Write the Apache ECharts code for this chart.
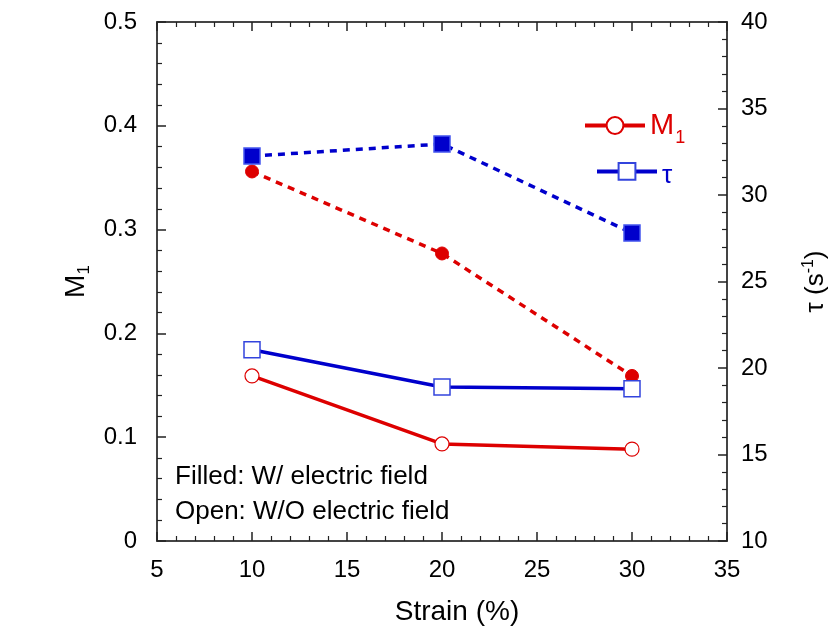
<!DOCTYPE html>
<html>
<head>
<meta charset="utf-8">
<script src="https://cdn.jsdelivr.net/npm/echarts@6/dist/echarts.min.js"></script>
<style>
  html, body { margin: 0; padding: 0; background: #fff; }
  #chart { width: 830px; height: 631px; }
</style>
</head>
<body>
<div id="chart"></div>
<script>
// strain values (%)
const strain = [10, 20, 30];
// M1, with and without electric field
const m1Filled = [0.356, 0.277, 0.159];
const m1Open = [0.159, 0.0935, 0.0885];
// tau (1/s), with and without electric field
const tauFilled = [32.25, 32.95, 27.8];
const tauOpen = [21.05, 18.9, 18.8];

const xTicks = { min: 5, max: 35, interval: 5 };
const m1Ticks = { min: 0, max: 0.5, interval: 0.1 };
const tauTicks = { min: 10, max: 40, interval: 5 };

const RED = '#dd0000';
const BLUE = '#0000cc';
const font = 'Liberation Sans, Arial, sans-serif';

const pairs = (xs, ys) => xs.map((x, i) => [x, ys[i]]);

const axisCommon = {
  axisLine: { show: true, lineStyle: { color: '#444', width: 2 } },
  axisTick: { show: true, inside: true, length: 9, lineStyle: { color: '#222', width: 1.5 } },
  minorTick: { show: true, splitNumber: 5, length: 5, lineStyle: { color: '#222', width: 1.2 } },
  splitLine: { show: false },
  axisLabel: { color: '#000', fontSize: 24, fontFamily: font }
};

const legendCommon = {
  orient: 'vertical',
  itemWidth: 60, itemHeight: 21,
  lineStyle: { width: 4 }
};

const myChart = echarts.init(document.getElementById('chart'));

myChart.setOption({
  animation: false,
  grid: { left: 157, right: 103, top: 22, bottom: 90, containLabel: false, outerBoundsMode: 'none' },
  xAxis: [
    Object.assign({}, axisCommon, {
      type: 'value', position: 'bottom',
      min: xTicks.min, max: xTicks.max, interval: xTicks.interval,
      name: 'Strain (%)', nameLocation: 'middle', nameGap: 57,
      nameTextStyle: { color: '#000', fontSize: 28, fontFamily: font, padding: [0, 0, 0, 30] },
      axisLabel: Object.assign({}, axisCommon.axisLabel, { margin: 17 })
    }),
    Object.assign({}, axisCommon, {
      type: 'value', position: 'top',
      min: xTicks.min, max: xTicks.max, interval: xTicks.interval,
      axisLabel: { show: false }
    })
  ],
  yAxis: [
    Object.assign({}, axisCommon, {
      type: 'value', position: 'left',
      min: m1Ticks.min, max: m1Ticks.max, interval: m1Ticks.interval,
      name: '{a|M}{b|1}', nameLocation: 'middle', nameGap: 50, nameRotate: 90,
      nameTextStyle: {
        rich: {
          a: { color: '#000', fontSize: 28, fontFamily: font },
          b: { color: '#000', fontSize: 17, fontFamily: font, padding: [16, 0, 0, 0] }
        }
      },
      axisLabel: Object.assign({}, axisCommon.axisLabel, { margin: 20 })
    }),
    Object.assign({}, axisCommon, {
      type: 'value', position: 'right',
      min: tauTicks.min, max: tauTicks.max, interval: tauTicks.interval,
      name: '{a|τ (s}{b|-1}{a|)}', nameLocation: 'middle', nameGap: 74, nameRotate: 90,
      nameTextStyle: {
        rich: {
          a: { color: '#000', fontSize: 26, fontFamily: font },
          b: { color: '#000', fontSize: 16, fontFamily: font, padding: [0, 0, 14, 0] }
        }
      },
      axisLabel: Object.assign({}, axisCommon.axisLabel, { margin: 14 })
    })
  ],
  legend: [
    Object.assign({}, legendCommon, {
      left: 578, top: 106,
      data: [{ name: 'M1' }],
      formatter: () => '{a|M}{b|1}',
      textStyle: {
        rich: {
          a: { color: RED, fontSize: 29, fontFamily: font },
          b: { color: RED, fontSize: 18, fontFamily: font, padding: [26, 0, 0, 1] }
        }
      }
    }),
    Object.assign({}, legendCommon, {
      left: 590, top: 157,
      data: [{ name: 'τ' }],
      formatter: () => '{c|τ}',
      textStyle: {
        rich: {
          c: { color: BLUE, fontSize: 26, fontFamily: font, padding: [8, 0, 0, 0] }
        }
      }
    })
  ],
  graphic: [
    { type: 'text', left: 175, top: 464, style: { text: 'Filled: W/ electric field', fontSize: 26, fontFamily: font, fill: '#000' } },
    { type: 'text', left: 175, top: 499, style: { text: 'Open: W/O electric field', fontSize: 26, fontFamily: font, fill: '#000' } }
  ],
  series: [
    {
      name: 'M1 filled', type: 'line', xAxisIndex: 0, yAxisIndex: 0,
      data: pairs(strain, m1Filled),
      lineStyle: { color: RED, width: 3.5, type: [7, 6] },
      symbol: 'circle', symbolSize: 13,
      itemStyle: { color: RED, borderColor: RED, borderWidth: 1 }
    },
    {
      name: 'M1', type: 'line', xAxisIndex: 0, yAxisIndex: 0,
      data: pairs(strain, m1Open),
      lineStyle: { color: RED, width: 3.5 },
      symbol: 'circle', symbolSize: 14,
      itemStyle: { color: '#fff', borderColor: RED, borderWidth: 1.2 }
    },
    {
      name: 'τ filled', type: 'line', xAxisIndex: 0, yAxisIndex: 1,
      data: pairs(strain, tauFilled),
      lineStyle: { color: BLUE, width: 3.5, type: [7, 6] },
      symbol: 'rect', symbolSize: 16,
      itemStyle: { color: BLUE, borderColor: '#4455ee', borderWidth: 1.5 }
    },
    {
      name: 'τ', type: 'line', xAxisIndex: 0, yAxisIndex: 1,
      data: pairs(strain, tauOpen),
      lineStyle: { color: BLUE, width: 3.5 },
      symbol: 'rect', symbolSize: 16,
      itemStyle: { color: '#fff', borderColor: '#3344dd', borderWidth: 1.5 }
    }
  ]
});

window.addEventListener('resize', () => {
  myChart.resize();
});
</script>
</body>
</html>
